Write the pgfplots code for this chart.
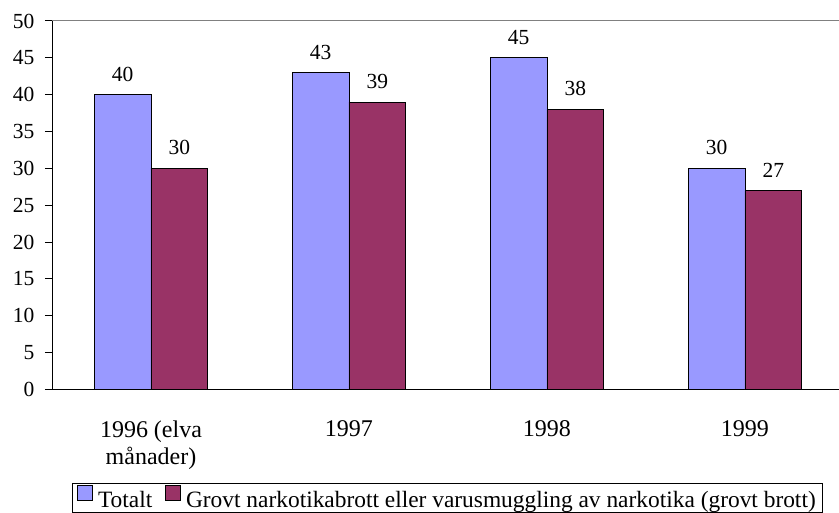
\documentclass[border=0pt]{standalone}
\usepackage{fontspec}
\setmainfont{Liberation Serif}
\usepackage{pgfplots}
\pgfplotsset{compat=1.18}
\pgfkeys{/pgf/number format/assume math mode=true}
\definecolor{cBlue}{HTML}{9999FF}
\definecolor{cRed}{HTML}{993366}
\begin{document}
\begin{tikzpicture}
\path[use as bounding box] (-52bp,-123.5bp) rectangle (787bp,389.5bp);
\begin{axis}[
  at={(0bp,0bp)}, anchor=south west,
  scale only axis,
  width=787bp, height=368.5bp,
  xmin=-0.5, xmax=3.475,
  ymin=0, ymax=50,
  ytick={0,5,10,15,20,25,30,35,40,45,50},
  yticklabels={\textrm{0},\textrm{5},\textrm{10},\textrm{15},\textrm{20},\textrm{25},\textrm{30},\textrm{35},\textrm{40},\textrm{45},\textrm{50}},
  axis x line*=bottom, axis y line*=left,
  axis line style={line width=1bp, black},
  every tick/.style={black, line width=1bp},
  tick align=outside,
  major tick length=7bp,
  xtick={0,1,2,3},
  xticklabels={{1996 (elva\\månader)},1997,1998,1999},
  x tick style={draw=none},
  extra x ticks={-0.5,0.5,1.5,2.5},
  extra x tick labels={},
  extra x tick style={tick style={draw=black, line width=1bp}},
  xticklabel style={align=center, font=\fontsize{24bp}{27bp}\selectfont, yshift=-21bp},
  yticklabel style={font=\fontsize{21.5bp}{25bp}\selectfont, xshift=-7bp},
  ybar=0pt, bar width=56.7bp,
  nodes near coords={\textrm{\pgfmathprintnumber[assume math mode=true]{\pgfplotspointmeta}}},
  nodes near coords style={font=\fontsize{21.5bp}{25bp}\selectfont, anchor=base, inner sep=0pt, yshift=13.5bp, black},
  legend style={at={(0.5025,-0.2537)}, anchor=north, legend columns=-1, draw=black, line width=0.8bp,
    font=\fontsize{23.4bp}{27bp}\selectfont, inner xsep=5bp, inner ysep=2bp,
    /tikz/every odd column/.append style={column sep=3bp},
    /tikz/every even column/.append style={column sep=11bp}},
  legend image code/.code={\draw[#1,draw=black,line width=0.8bp] (0bp,-1bp) rectangle (15bp,14bp);},
  clip=false,
]
\addplot[fill=cBlue, draw=black, line width=0.8bp] coordinates {(0,40) (1,43) (2,45) (3,30)};
\addplot[fill=cRed, draw=black, line width=0.8bp] coordinates {(0,30) (1,39) (2,38) (3,27)};
\legend{Totalt,Grovt narkotikabrott eller varusmuggling av narkotika (grovt brott)}
\draw[gray, line width=1bp] (axis cs:-0.5,50) -- (axis cs:3.475,50);
\end{axis}
\end{tikzpicture}
\end{document}
